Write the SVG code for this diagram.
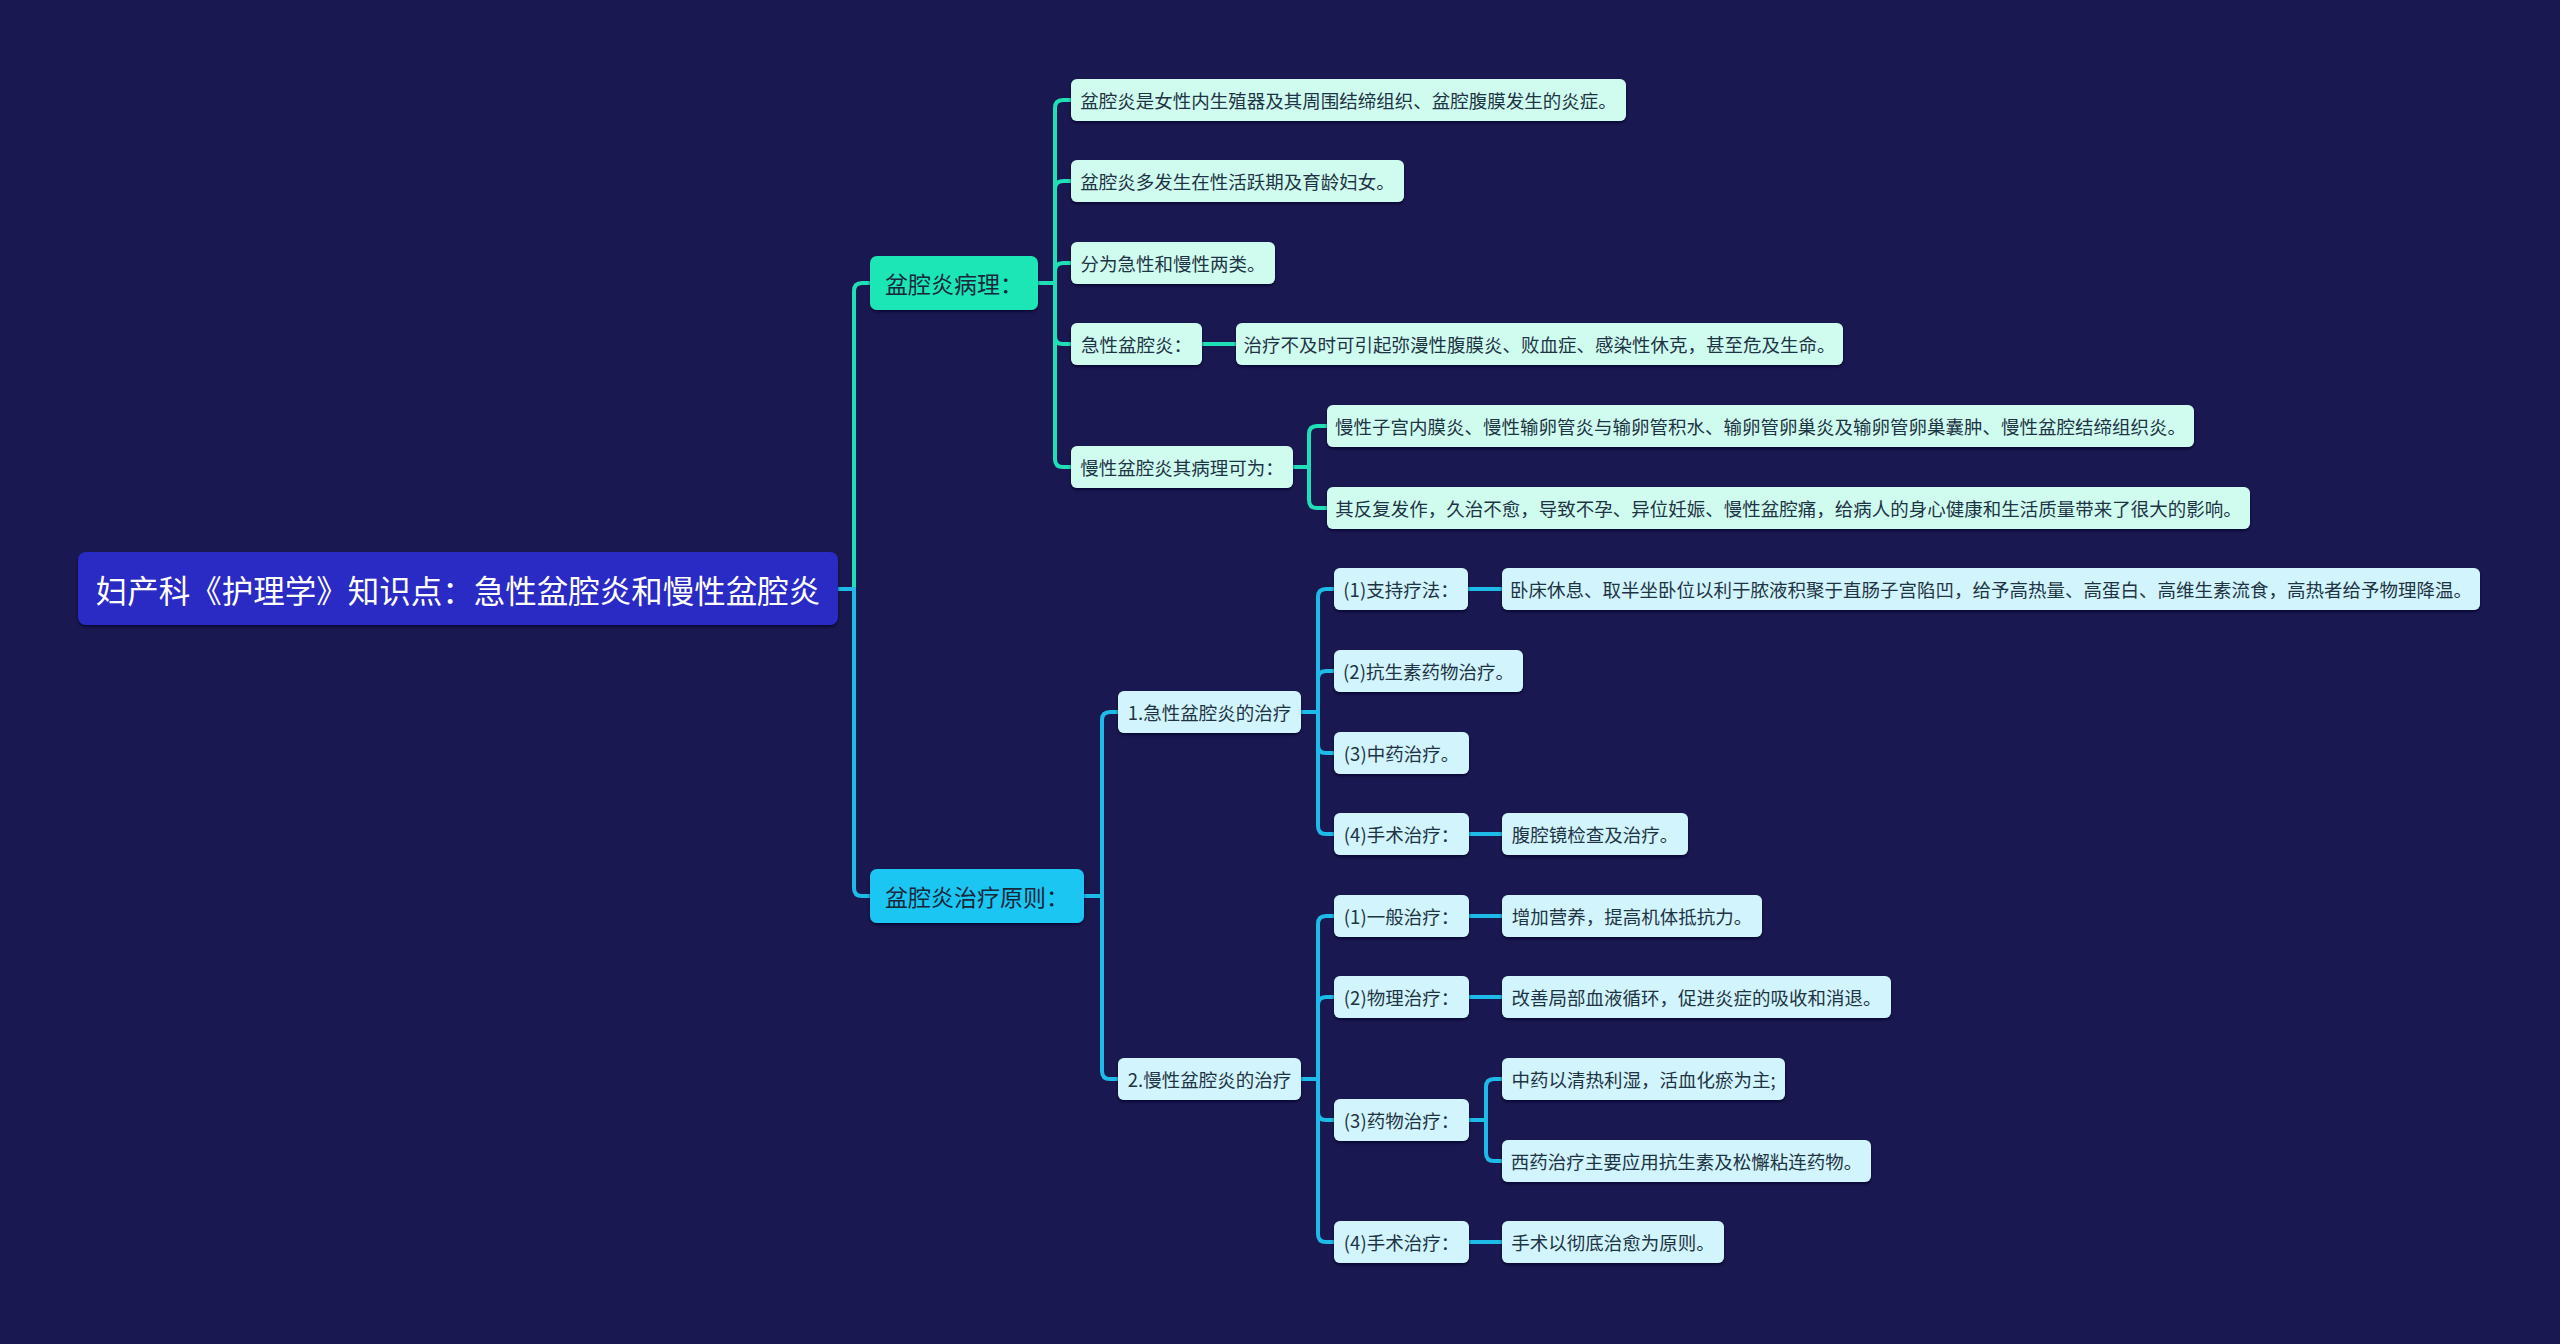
<svg xmlns="http://www.w3.org/2000/svg" width="2560" height="1344" viewBox="0 0 2560 1344">
<defs>
<filter id="sh" x="-5%" y="-20%" width="110%" height="150%">
<feDropShadow dx="0" dy="2" stdDeviation="1.5" flood-color="#05052a" flood-opacity="0.7"/>
</filter>
</defs>
<style>
text{font-family:"Noto Sans CJK SC","Liberation Sans",sans-serif;dominant-baseline:central;text-anchor:middle}
.root rect{fill:#2a2ac4}
.root text{fill:#ffffff;font-size:31.5px}
.l1a rect{fill:#1ee6b6}
.l1b rect{fill:#1cc6f2}
.l1a text,.l1b text{fill:#16283a;font-size:23px}
.la rect{fill:#d0fcf0}
.lb rect{fill:#d2f4fc}
.la text,.lb text{fill:#1e3444;font-size:18.5px}
rect{filter:url(#sh)}
.ca path{stroke:#20dfb6;stroke-width:4;fill:none}
.cb path{stroke:#1ebbe8;stroke-width:4;fill:none}
</style>
<rect x="0" y="0" width="2560" height="1344" fill="#1a1850" style="filter:none"/>

<g id="connectors">
<g class="ca">
<path d="M838 589 H854 V291 Q854 283 862 283 H870"/>
<path d="M1038 283 H1055 V108 Q1055 100 1063 100 H1071"/>
<path d="M1038 283 H1055 V189 Q1055 181 1063 181 H1071"/>
<path d="M1038 283 H1055 V271 Q1055 263 1063 263 H1071"/>
<path d="M1038 283 H1055 V336 Q1055 344 1063 344 H1071"/>
<path d="M1038 283 H1055 V459 Q1055 467 1063 467 H1071"/>
<path d="M1202 344 H1236"/>
<path d="M1293 467 H1309 V434 Q1309 426 1317 426 H1327"/>
<path d="M1293 467 H1309 V500 Q1309 508 1317 508 H1327"/>
</g>
<g class="cb">
<path d="M838 589 H854 V888 Q854 896 862 896 H870"/>
<path d="M1084 896 H1102 V720 Q1102 712 1110 712 H1118"/>
<path d="M1084 896 H1102 V1071 Q1102 1079 1110 1079 H1118"/>
<path d="M1301 712 H1318 V597 Q1318 589 1326 589 H1334"/>
<path d="M1301 712 H1318 V679 Q1318 671 1326 671 H1334"/>
<path d="M1301 712 H1318 V745 Q1318 753 1326 753 H1334"/>
<path d="M1301 712 H1318 V826 Q1318 834 1326 834 H1334"/>
<path d="M1468 589 H1502"/>
<path d="M1469 834 H1502"/>
<path d="M1301 1079 H1318 V924 Q1318 916 1326 916 H1334"/>
<path d="M1301 1079 H1318 V1005 Q1318 997 1326 997 H1334"/>
<path d="M1301 1079 H1318 V1112 Q1318 1120 1326 1120 H1334"/>
<path d="M1301 1079 H1318 V1234 Q1318 1242 1326 1242 H1334"/>
<path d="M1469 916 H1502"/>
<path d="M1469 997 H1502"/>
<path d="M1469 1242 H1502"/>
<path d="M1469 1120 H1486 V1087 Q1486 1079 1494 1079 H1502"/>
<path d="M1469 1120 H1486 V1153 Q1486 1161 1494 1161 H1502"/>
</g>
</g>

<g id="root" class="root"><rect x="78" y="552" width="760" height="73" rx="8"/><text x="458" y="589">妇产科《护理学》知识点：急性盆腔炎和慢性盆腔炎</text></g>

<g id="n-bl" class="l1a"><rect x="870" y="256" width="168" height="54" rx="7"/><text x="954" y="283">盆腔炎病理：</text></g>
<g id="n-zl" class="l1b"><rect x="870" y="869" width="214" height="54" rx="7"/><text x="977" y="896">盆腔炎治疗原则：</text></g>

<g id="n-a1" class="la"><rect x="1071" y="79" width="555" height="42" rx="6"/><text x="1348.5" y="100">盆腔炎是女性内生殖器及其周围结缔组织、盆腔腹膜发生的炎症。</text></g>
<g id="n-a2" class="la"><rect x="1071" y="160" width="333" height="42" rx="6"/><text x="1237.5" y="181">盆腔炎多发生在性活跃期及育龄妇女。</text></g>
<g id="n-a3" class="la"><rect x="1071" y="242" width="204" height="42" rx="6"/><text x="1173" y="263">分为急性和慢性两类。</text></g>
<g id="n-a4" class="la"><rect x="1071" y="323" width="131" height="42" rx="6"/><text x="1136.5" y="344">急性盆腔炎：</text></g>
<g id="n-a4a" class="la"><rect x="1236" y="323" width="607" height="42" rx="6"/><text x="1539.5" y="344">治疗不及时可引起弥漫性腹膜炎、败血症、感染性休克，甚至危及生命。</text></g>
<g id="n-a5" class="la"><rect x="1071" y="446" width="222" height="42" rx="6"/><text x="1182" y="467">慢性盆腔炎其病理可为：</text></g>
<g id="n-a5a" class="la"><rect x="1327" y="405" width="867" height="42" rx="6"/><text x="1760.5" y="426">慢性子宫内膜炎、慢性输卵管炎与输卵管积水、输卵管卵巢炎及输卵管卵巢囊肿、慢性盆腔结缔组织炎。</text></g>
<g id="n-a5b" class="la"><rect x="1327" y="487" width="923" height="42" rx="6"/><text x="1788.5" y="508">其反复发作，久治不愈，导致不孕、异位妊娠、慢性盆腔痛，给病人的身心健康和生活质量带来了很大的影响。</text></g>

<g id="n-b1" class="lb"><rect x="1118" y="691" width="183" height="42" rx="6"/><text x="1209.5" y="712">1.急性盆腔炎的治疗</text></g>
<g id="n-b2" class="lb"><rect x="1118" y="1058" width="183" height="42" rx="6"/><text x="1209.5" y="1079">2.慢性盆腔炎的治疗</text></g>

<g id="n-c1" class="lb"><rect x="1334" y="568" width="134" height="42" rx="6"/><text x="1401" y="589">(1)支持疗法：</text></g>
<g id="n-c1a" class="lb"><rect x="1502" y="568" width="978" height="42" rx="6"/><text x="1991" y="589">卧床休息、取半坐卧位以利于脓液积聚于直肠子宫陷凹，给予高热量、高蛋白、高维生素流食，高热者给予物理降温。</text></g>
<g id="n-c2" class="lb"><rect x="1334" y="650" width="189" height="42" rx="6"/><text x="1428.5" y="671">(2)抗生素药物治疗。</text></g>
<g id="n-c3" class="lb"><rect x="1334" y="732" width="135" height="42" rx="6"/><text x="1401.5" y="753">(3)中药治疗。</text></g>
<g id="n-c4" class="lb"><rect x="1334" y="813" width="135" height="42" rx="6"/><text x="1401.5" y="834">(4)手术治疗：</text></g>
<g id="n-c4a" class="lb"><rect x="1502" y="813" width="186" height="42" rx="6"/><text x="1595" y="834">腹腔镜检查及治疗。</text></g>

<g id="n-d1" class="lb"><rect x="1334" y="895" width="135" height="42" rx="6"/><text x="1401.5" y="916">(1)一般治疗：</text></g>
<g id="n-d1a" class="lb"><rect x="1502" y="895" width="260" height="42" rx="6"/><text x="1632" y="916">增加营养，提高机体抵抗力。</text></g>
<g id="n-d2" class="lb"><rect x="1334" y="976" width="135" height="42" rx="6"/><text x="1401.5" y="997">(2)物理治疗：</text></g>
<g id="n-d2a" class="lb"><rect x="1502" y="976" width="389" height="42" rx="6"/><text x="1696.5" y="997">改善局部血液循环，促进炎症的吸收和消退。</text></g>
<g id="n-d3" class="lb"><rect x="1334" y="1099" width="135" height="42" rx="6"/><text x="1401.5" y="1120">(3)药物治疗：</text></g>
<g id="n-d3a" class="lb"><rect x="1502" y="1058" width="283" height="42" rx="6"/><text x="1643.5" y="1079">中药以清热利湿，活血化瘀为主;</text></g>
<g id="n-d3b" class="lb"><rect x="1502" y="1140" width="369" height="42" rx="6"/><text x="1686.5" y="1161">西药治疗主要应用抗生素及松懈粘连药物。</text></g>
<g id="n-d4" class="lb"><rect x="1334" y="1221" width="135" height="42" rx="6"/><text x="1401.5" y="1242">(4)手术治疗：</text></g>
<g id="n-d4a" class="lb"><rect x="1502" y="1221" width="222" height="42" rx="6"/><text x="1613" y="1242">手术以彻底治愈为原则。</text></g>
</svg>
